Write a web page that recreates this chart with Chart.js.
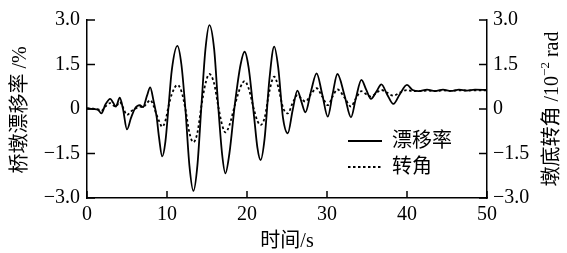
<!DOCTYPE html>
<html>
<head>
<meta charset="utf-8">
<script src="https://cdn.jsdelivr.net/npm/chart.js@4.4.1/dist/chart.umd.min.js"></script>
<style>
  html, body { margin: 0; padding: 0; background: #fff; }
</style>
</head>
<body>
<canvas id="drift-chart" width="567" height="253"></canvas>
<script>
// time (s), pier drift ratio (%), base rotation (10^-2 rad)
const times = [0.0, 0.8, 1.4, 1.8, 2.3, 2.9, 3.3, 3.6, 4.1, 4.5, 5.0, 5.5, 6.0, 6.6, 7.0, 7.5, 7.9, 8.3, 8.7, 9.0,
  9.4, 9.8, 10.2, 10.6, 11.3, 11.8, 12.3, 12.8, 13.3, 13.8, 14.3, 14.8, 15.3, 15.9, 16.4, 16.9, 17.3, 17.8, 18.5, 19.2,
  19.7, 20.2, 20.9, 21.3, 21.7, 22.2, 22.8, 23.4, 23.9, 24.5, 25.1, 25.7, 26.3, 26.8, 27.3, 28.0, 28.7, 29.4, 30.1, 30.7,
  31.3, 32.2, 33.0, 33.6, 34.3, 34.9, 35.5, 36.2, 36.8, 37.5, 38.3, 39.1, 40.0, 40.7, 41.5, 42.5, 43.5, 44.5, 45.5, 46.5,
  47.5, 48.5, 50.0];
const drift = [0.02, 0.0, -0.03, -0.15, 0.15, 0.34, 0.2, 0.08, 0.38, 0.0, -0.69, -0.3, 0.02, 0.13, 0.06, 0.45, 0.73, 0.3, -0.26, -0.95,
  -1.6, -1.1, 0.1, 1.31, 2.13, 1.5, 0.0, -1.9, -2.76, -1.9, 0.1, 2.0, 2.83, 2.0, 0.1, -1.55, -2.17, -1.5, 0.2, 1.5,
  1.93, 1.4, -0.3, -1.3, -1.72, -1.0, 1.0, 2.1, 1.4, -0.3, -0.82, -0.05, 0.62, 0.25, -0.11, 0.6, 1.2, 0.5, -0.26, 0.5,
  1.18, 0.45, -0.28, 0.35, 0.98, 0.65, 0.34, 0.6, 0.83, 0.5, 0.17, 0.5, 0.81, 0.64, 0.6, 0.65, 0.6, 0.65, 0.61, 0.65,
  0.62, 0.65, 0.64];
const rotation = [0.02, 0.01, -0.01, -0.06, 0.08, 0.2, 0.12, 0.08, 0.24, 0.05, -0.2, -0.08, 0.0, 0.08, 0.06, 0.2, 0.3, 0.12, -0.2, -0.4,
  -0.6, -0.4, 0.1, 0.5, 0.81, 0.6, 0.0, -0.8, -1.12, -0.8, 0.1, 0.85, 1.18, 0.85, 0.1, -0.55, -0.79, -0.55, 0.15, 0.75,
  0.94, 0.7, -0.05, -0.4, -0.54, -0.3, 0.6, 1.09, 0.75, 0.05, -0.15, 0.2, 0.47, 0.35, 0.25, 0.5, 0.7, 0.42, 0.13, 0.42,
  0.66, 0.38, 0.08, 0.35, 0.6, 0.5, 0.42, 0.55, 0.64, 0.55, 0.45, 0.55, 0.64, 0.6, 0.6, 0.62, 0.6, 0.63, 0.61, 0.63,
  0.62, 0.63, 0.63];

const seriesNames = ["漂移率", "转角"];
const xTicks = [0, 10, 20, 30, 40, 50];
const yTicks = [-3, -1.5, 0, 1.5, 3];

const FONT = "'Liberation Serif', 'Noto Sans CJK SC', serif";

function fmtY(v) {
  if (v === 0) return "0";
  return v.toFixed(1).replace("-", "\u2212");
}

function toPoints(ys) {
  return times.map((t, i) => ({ x: t, y: ys[i] }));
}

// inward tick marks, legend and axis titles
const overlay = {
  id: "overlay",
  afterDraw(chart) {
    const { ctx, chartArea: a, scales } = chart;
    ctx.save();
    ctx.strokeStyle = "#000";
    ctx.fillStyle = "#000";
    ctx.lineWidth = 1.5;

    const seg = (x1, y1, x2, y2, dash) => {
      ctx.beginPath();
      ctx.setLineDash(dash || []);
      ctx.moveTo(x1, y1);
      ctx.lineTo(x2, y2);
      ctx.stroke();
    };

    yTicks.forEach((v) => {
      const y = scales.y.getPixelForValue(v);
      seg(a.left, y, a.left + 8, y);
      seg(a.right, y, a.right - 8, y);
    });
    xTicks.forEach((v) => {
      const x = scales.x.getPixelForValue(v);
      seg(x, a.bottom, x, a.bottom - 7);
    });

    // legend
    ctx.lineWidth = 1.8;
    ctx.font = "20px " + FONT;
    ctx.textBaseline = "middle";
    ctx.textAlign = "left";
    seg(348, 141, 382, 141);
    ctx.fillText(seriesNames[0], 392, 142);
    seg(348, 167, 382, 167, [2.5, 2.5]);
    ctx.fillText(seriesNames[1], 392, 168);
    ctx.setLineDash([]);

    // x title
    ctx.textAlign = "center";
    ctx.font = "20px " + FONT;
    ctx.fillText("时间/s", 287, 242);

    // left title
    ctx.save();
    ctx.translate(21, 110);
    ctx.rotate(-Math.PI / 2);
    ctx.fillText("桥墩漂移率 /%", 0, 0);
    ctx.restore();

    // right title with superscript
    ctx.save();
    ctx.translate(553, 109);
    ctx.rotate(-Math.PI / 2);
    const parts = [
      { s: "墩底转角 /10", f: "20px " + FONT, dy: 0 },
      { s: "\u22122", f: "13px " + FONT, dy: -7 },
      { s: " rad", f: "20px " + FONT, dy: 0 },
    ];
    let total = 0;
    parts.forEach((p) => { ctx.font = p.f; p.w = ctx.measureText(p.s).width; total += p.w; });
    let x = -total / 2;
    ctx.textAlign = "left";
    parts.forEach((p) => { ctx.font = p.f; ctx.fillText(p.s, x, p.dy); x += p.w; });
    ctx.restore();

    ctx.restore();
  },
};

const ctx = document.getElementById("drift-chart").getContext("2d");
new Chart(ctx, {
  type: "line",
  data: {
    datasets: [
      {
        label: seriesNames[0],
        data: toPoints(drift),
        borderColor: "#000",
        borderWidth: 1.8,
        pointRadius: 0,
        cubicInterpolationMode: "monotone",
        yAxisID: "y",
      },
      {
        label: seriesNames[1],
        data: toPoints(rotation),
        borderColor: "#000",
        borderWidth: 1.8,
        borderDash: [2.5, 2.5],
        pointRadius: 0,
        cubicInterpolationMode: "monotone",
        yAxisID: "y1",
      },
    ],
  },
  options: {
    responsive: false,
    animation: false,
    devicePixelRatio: 1,
    layout: { padding: { top: 20, left: 0, right: 0, bottom: 0 } },
    plugins: {
      legend: { display: false },
      tooltip: { enabled: false },
    },
    scales: {
      x: {
        type: "linear",
        min: 0,
        max: 50,
        afterBuildTicks: (s) => { s.ticks = xTicks.map((v) => ({ value: v })); },
        afterFit: (s) => { s.height = 55; },
        grid: { drawOnChartArea: false, drawTicks: false },
        border: { color: "#000", width: 1.5 },
        ticks: { color: "#000", padding: 5, maxRotation: 0, font: { family: FONT, size: 20 } },
      },
      y: {
        position: "left",
        min: -3,
        max: 3,
        afterBuildTicks: (s) => { s.ticks = yTicks.map((v) => ({ value: v })); },
        afterFit: (s) => { s.width = 87; },
        grid: { drawOnChartArea: false, drawTicks: false },
        border: { color: "#000", width: 1.5 },
        ticks: { color: "#000", padding: 7, callback: fmtY, font: { family: FONT, size: 20 } },
      },
      y1: {
        position: "right",
        min: -3,
        max: 3,
        afterBuildTicks: (s) => { s.ticks = yTicks.map((v) => ({ value: v })); },
        afterFit: (s) => { s.width = 80; },
        grid: { drawOnChartArea: false, drawTicks: false },
        border: { color: "#000", width: 1.5 },
        ticks: { color: "#000", padding: 6, callback: fmtY, font: { family: FONT, size: 20 } },
      },
    },
  },
  plugins: [overlay],
});
</script>
</body>
</html>
